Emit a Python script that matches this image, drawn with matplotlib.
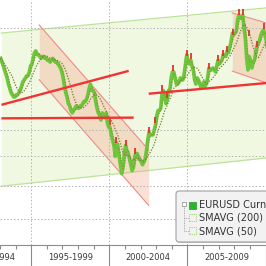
import numpy as np
import pandas as pd
import matplotlib
matplotlib.use('Agg')
import matplotlib.pyplot as plt
from matplotlib.patches import FancyBboxPatch, Rectangle
from matplotlib.lines import Line2D

# monthly EURUSD levels, Jan 1993 - Mar 2010
months = pd.date_range('1993-01-01', '2010-03-01', freq='MS')
eurusd = [
    1.33, 1.31, 1.29, 1.27, 1.25, 1.23, 1.20, 1.18, 1.16, 1.15, 1.14, 1.14,  # 1993
    1.15, 1.15, 1.16, 1.17, 1.19, 1.21, 1.22, 1.23, 1.24, 1.24, 1.26, 1.29,  # 1994
    1.30, 1.33, 1.36, 1.37, 1.35, 1.35, 1.34, 1.33, 1.34, 1.34, 1.33, 1.33,  # 1995
    1.32, 1.32, 1.31, 1.32, 1.33, 1.32, 1.31, 1.31, 1.30, 1.29, 1.28, 1.26,  # 1996
    1.23, 1.19, 1.16, 1.14, 1.11, 1.10, 1.08, 1.07, 1.08, 1.09, 1.10, 1.09,  # 1997
    1.09, 1.10, 1.10, 1.11, 1.12, 1.12, 1.13, 1.15, 1.18, 1.20, 1.17, 1.17,  # 1998
    1.16, 1.12, 1.09, 1.07, 1.06, 1.04, 1.07, 1.06, 1.05, 1.07, 1.03, 1.01,  # 1999
    1.01, 0.98, 0.96, 0.94, 0.90, 0.95, 0.94, 0.90, 0.87, 0.84, 0.86, 0.91,  # 2000
    0.94, 0.92, 0.91, 0.89, 0.87, 0.85, 0.86, 0.90, 0.91, 0.91, 0.89, 0.89,  # 2001
    0.88, 0.87, 0.88, 0.89, 0.92, 0.96, 0.99, 0.98, 0.98, 0.98, 1.00, 1.02,  # 2002
    1.06, 1.08, 1.08, 1.09, 1.16, 1.17, 1.14, 1.11, 1.13, 1.17, 1.17, 1.23,  # 2003
    1.26, 1.26, 1.23, 1.20, 1.20, 1.21, 1.23, 1.22, 1.22, 1.25, 1.30, 1.35,  # 2004
    1.31, 1.30, 1.32, 1.29, 1.27, 1.22, 1.20, 1.23, 1.22, 1.20, 1.18, 1.19,  # 2005
    1.21, 1.19, 1.20, 1.23, 1.28, 1.27, 1.27, 1.28, 1.27, 1.26, 1.29, 1.32,  # 2006
    1.30, 1.31, 1.32, 1.35, 1.35, 1.34, 1.37, 1.36, 1.39, 1.42, 1.47, 1.46,  # 2007
    1.47, 1.48, 1.55, 1.58, 1.56, 1.56, 1.58, 1.50, 1.44, 1.33, 1.27, 1.34,  # 2008
    1.32, 1.28, 1.31, 1.32, 1.36, 1.40, 1.41, 1.43, 1.46, 1.48, 1.49, 1.46,  # 2009
    1.43, 1.37, 1.36,                                                        # 2010
]

# red spikes on the candles (highs)
spike_x = [2000.05, 2000.45, 2001.05, 2001.65, 2002.55, 2002.95, 2003.4, 2003.7,
           2004.1, 2004.95, 2005.2, 2006.4, 2006.95, 2007.3, 2007.55, 2007.9,
           2008.3, 2008.55, 2008.95, 2009.45, 2009.9]
spike_y = [1.03, 0.96, 0.95, 0.92, 1.00, 1.04, 1.18, 1.15, 1.28, 1.36, 1.34,
           1.29, 1.33, 1.36, 1.38, 1.48, 1.60, 1.60, 1.47, 1.41, 1.51]

# trend channel (green) and the two red regression channels
green_x = [1993.09, 2010.03]
green_upper = [1.471, 1.626]
green_lower = [0.799, 0.894]

fall_x = [1995.51, 2002.52]
fall_upper = [1.519, 0.923]
fall_lower = [1.221, 0.740]

top_x = [2007.87, 2011.6]
top_upper = [1.594, 1.489]
top_lower = [1.264, 1.167]

# red trend lines
trend_lines = [
    ([1993.09, 2001.24], [1.105, 1.265]),
    ([1993.09, 2001.56], [1.047, 1.050]),
    ([2002.52, 2010.30], [1.155, 1.207]),
]

grid_levels = [0.7, 0.8, 0.9, 1.0, 1.5]
period_labels = ['1990-1994', '1995-1999', '2000-2004', '2005-2009']
period_centers = [1992.5, 1997.5, 2002.5, 2007.5]

x = months.year + (months.month - 0.5) / 12
s = pd.Series(eurusd)
sma200 = s.rolling(10, min_periods=1).mean()
sma50 = s.rolling(3, min_periods=1).mean()

fig = plt.figure(figsize=(2.66, 2.66), dpi=100)
ax = fig.add_axes([0, 21 / 266, 1, 245 / 266])
ax.set_yscale('log')
ax.set_xlim(1993.09, 2010.03)
ax.set_ylim(0.632, 1.678)
ax.yaxis.set_major_locator(plt.NullLocator())
ax.yaxis.set_minor_locator(plt.NullLocator())

# channels
ax.fill_between(green_x, green_lower, green_upper, color='#f0f8e2', lw=0, zorder=0)
ax.plot(green_x, green_upper, color='#bde39a', lw=0.9, zorder=1)
ax.plot(green_x, green_lower, color='#bde39a', lw=0.9, zorder=1)

for cx, up, lo in [(fall_x, fall_upper, fall_lower), (top_x, top_upper, top_lower)]:
    ax.fill_between(cx, lo, up, color='#f4a080', alpha=0.32, lw=0, zorder=1)
    ax.plot(cx, up, color='#f08a8a', lw=0.8, zorder=1)
    ax.plot(cx, lo, color='#f08a8a', lw=0.8, zorder=1)

# grid
for g in grid_levels:
    ax.axhline(g, color='#b4b4b4', lw=0.7, ls=(0, (1.5, 2)), zorder=1.5)
for v in [1995, 2000, 2005]:
    ax.axvline(v, color='#b4b4b4', lw=0.7, ls=(0, (1.5, 2)), zorder=1.5)

# series
ax.plot(x, eurusd, color='#6cc83a', lw=2.6, solid_joinstyle='round', zorder=3)
ax.plot(spike_x, spike_y, ls='none', marker='|', ms=4, mew=1.3, color='#e8302a', zorder=3.5)
ax.plot(x, sma200, color='#6f7f2a', lw=0.9, ls=(0, (1, 1.2)), zorder=4)
ax.plot(x, sma50, color='#8a9440', lw=0.9, ls=(0, (1, 1.2)), zorder=4)

for lx, ly in trend_lines:
    ax.plot(lx, ly, color='#f03434', lw=1.7, solid_capstyle='butt', zorder=5)

# axis
for sp in ['left', 'right', 'top']:
    ax.spines[sp].set_visible(False)
ax.spines['bottom'].set_color('#8c8c8c')
ax.spines['bottom'].set_linewidth(0.8)
ax.set_xticks([1995, 2000, 2005, 2010])
ax.set_xticks(range(1993, 2011), minor=True)
ax.tick_params(axis='x', which='major', length=15, width=0.8, color='#8c8c8c', labelbottom=False)
ax.tick_params(axis='x', which='minor', length=3, width=0.8, color='#8c8c8c')
ax.tick_params(axis='y', which='both', left=False, labelleft=False)
for lab, xc in zip(period_labels, period_centers):
    ax.text(xc, -0.053, lab, transform=ax.get_xaxis_transform(), ha='center', va='center',
            fontsize=6, color='#3a3a3a')

# legend (drawn by hand, Bloomberg style)
def px(xp, yp):
    return xp / 266, 1 - yp / 266

sh = FancyBboxPatch(px(177, 243), 130 / 266, 51 / 266, boxstyle='round,pad=0,rounding_size=0.012',
                    transform=fig.transFigure, fc='#c8c8c8', ec='none', zorder=9)
fig.add_artist(sh)
box = FancyBboxPatch(px(176, 242), 130 / 266, 51 / 266, boxstyle='round,pad=0,rounding_size=0.012',
                     transform=fig.transFigure, fc='#f2f2f2', ec='#a0a0a0', lw=0.8, zorder=10)
fig.add_artist(box)
fig.add_artist(Rectangle(px(182, 206), 4 / 266, 4 / 266, transform=fig.transFigure,
                         fc='white', ec='#999999', lw=0.6, zorder=11))
fig.add_artist(Line2D([184 / 266, 184 / 266], [1 - 206 / 266, 1 - 231 / 266], transform=fig.transFigure,
                      color='#999999', lw=0.6, ls=(0, (1, 1)), zorder=11))
for yy in [218, 231]:
    fig.add_artist(Line2D([184 / 266, 189 / 266], [1 - yy / 266, 1 - yy / 266], transform=fig.transFigure,
                          color='#999999', lw=0.6, ls=(0, (1, 1)), zorder=11))
fig.add_artist(Rectangle(px(189, 209), 7 / 266, 7 / 266, transform=fig.transFigure,
                         fc='#2db42d', ec='#1f9a1f', lw=0.5, zorder=11))
for yy in [221, 234]:
    fig.add_artist(Rectangle(px(189, yy), 7 / 266, 7 / 266, transform=fig.transFigure,
                             fc='none', ec='#a6d67a', lw=0.8, ls=(0, (1, 1)), zorder=11))
for lab, yy in zip(['EURUSD Curncy', 'SMAVG (200)', 'SMAVG (50)'], [205, 218, 231]):
    fig.text(199 / 266, 1 - yy / 266, lab, fontsize=7, color='#333333', va='center', ha='left', zorder=12)

fig.savefig('out.png', dpi=100)
